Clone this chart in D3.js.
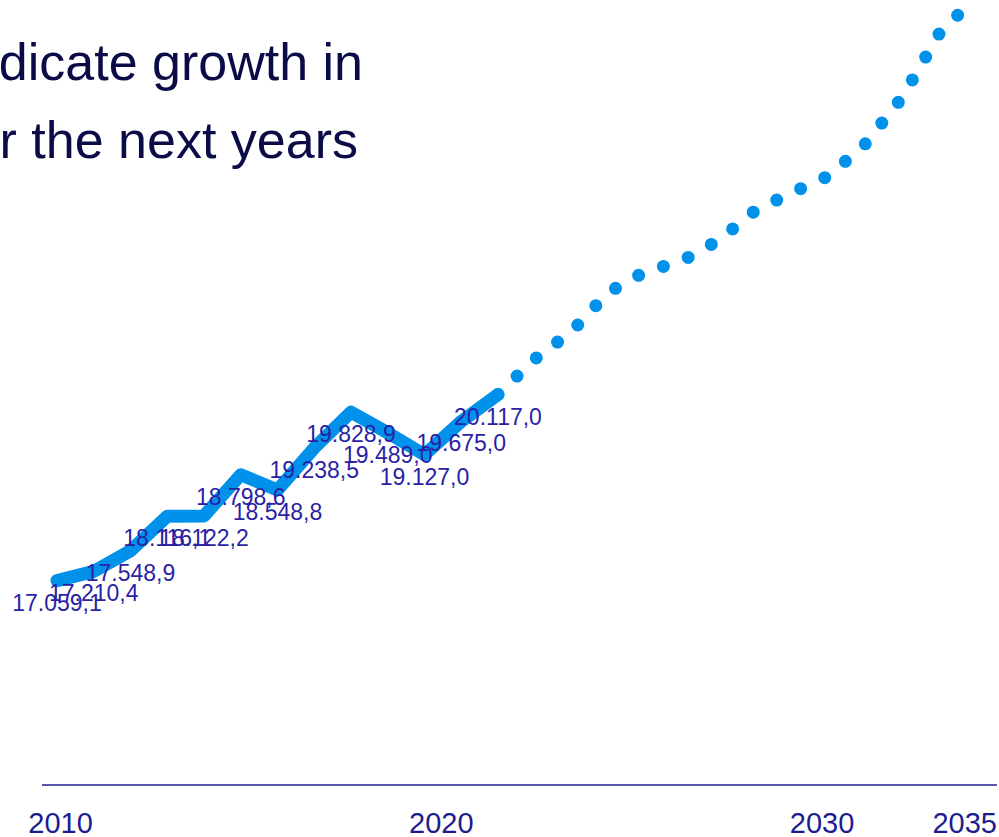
<!DOCTYPE html>
<meta charset="utf-8">
<style>
  body { margin: 0; background: #fff; }
  svg { display: block; font-family: "Liberation Sans", Arial, Helvetica, sans-serif; }
  .title { fill: #0b0b48; font-size: 52px; }
  .value { fill: #2a1fa5; font-size: 23px; }
  .axis text { fill: #1c1c8f; font-size: 29px; }
  .axis path { stroke: #22228a; stroke-width: 1.5; }
</style>
<body></body>
<script src="https://cdn.jsdelivr.net/npm/d3@7"></script>
<script>

// historical values 2010-2022
var years = [2010, 2011, 2012, 2013, 2014, 2015, 2016, 2017, 2018, 2019, 2020, 2021, 2022];
var values = [17059.1, 17210.4, 17548.9, 18116.1, 18122.2, 18798.6, 18548.8, 19238.5, 19828.9, 19489.0, 19127.0, 19675.0, 20117.0];

// forecast 2022-2035
var forecastYears = [2022, 2023, 2024, 2025, 2026, 2027, 2028, 2029, 2030, 2031, 2032, 2033, 2034, 2035];
var forecastValues = [20117.0, 20700, 21150, 21795, 22135, 22310, 22650, 23140, 23435, 23710, 24240, 25000, 26040, 26650];

var tickYears = [2010, 2020, 2030, 2035];
var titleLines = ["indicate growth in", "for the next years"];

var width = 999, height = 837;

var svg = d3.select("body").append("svg")
    .attr("width", width)
    .attr("height", height);

var x = d3.scaleLinear()
    .domain([2010, 2035])
    .range([57, 975.75]);

var y = d3.scaleLinear()
    .domain([13700, 26600])
    .range([785, 0]);

var de = d3.formatLocale({decimal: ",", thousands: ".", grouping: [3], currency: ["", " €"]});
var fmt = de.format(",.1f");

// title (cropped on the left like the original)
svg.selectAll(".title")
  .data(titleLines)
  .enter().append("text")
    .attr("class", "title")
    .attr("text-anchor", "end")
    .attr("x", function (d, i) { return i == 0 ? 363 : 358; })
    .attr("y", function (d, i) { return 80 + i * 78; })
    .text(function (d) { return d; });

// x axis
var axisScale = x.copy().range([60, 1012]);
var xAxis = d3.axisBottom(axisScale)
    .tickValues(tickYears)
    .tickFormat(d3.format("d"))
    .tickSize(0)
    .tickSizeOuter(0);

var gx = svg.append("g")
    .attr("class", "axis")
    .attr("transform", "translate(0,785)")
    .call(xAxis);

gx.select(".domain").attr("d", "M42,0H997");
gx.selectAll(".tick text").attr("y", 48).attr("dy", 0);
// keep the last label inside the axis
gx.selectAll(".tick")
  .filter(function (d) { return axisScale(d) > 997; })
  .attr("transform", "translate(997,0)")
  .select("text").attr("text-anchor", "end");

var line = d3.line()
    .x(function (d) { return x(d[0]); })
    .y(function (d) { return y(d[1]); });

// forecast, dotted
svg.append("path")
    .datum(d3.zip(forecastYears, forecastValues))
    .attr("fill", "none")
    .attr("stroke", "#0091ea")
    .attr("stroke-width", 13)
    .attr("stroke-linecap", "round")
    .attr("stroke-dasharray", "0 26.5")
    .attr("d", line);

// historical, solid
svg.append("path")
    .datum(d3.zip(years, values))
    .attr("fill", "none")
    .attr("stroke", "#0091ea")
    .attr("stroke-width", 13)
    .attr("stroke-linecap", "round")
    .attr("stroke-linejoin", "round")
    .attr("d", line);

// value labels
svg.selectAll(".value")
  .data(d3.zip(years, values))
  .enter().append("text")
    .attr("class", "value")
    .attr("text-anchor", "middle")
    .attr("x", function (d) { return x(d[0]); })
    .attr("y", function (d) { return y(d[1]) + 22; })
    .attr("dy", "0.35em")
    .text(function (d) { return fmt(d[1]); });

</script>
